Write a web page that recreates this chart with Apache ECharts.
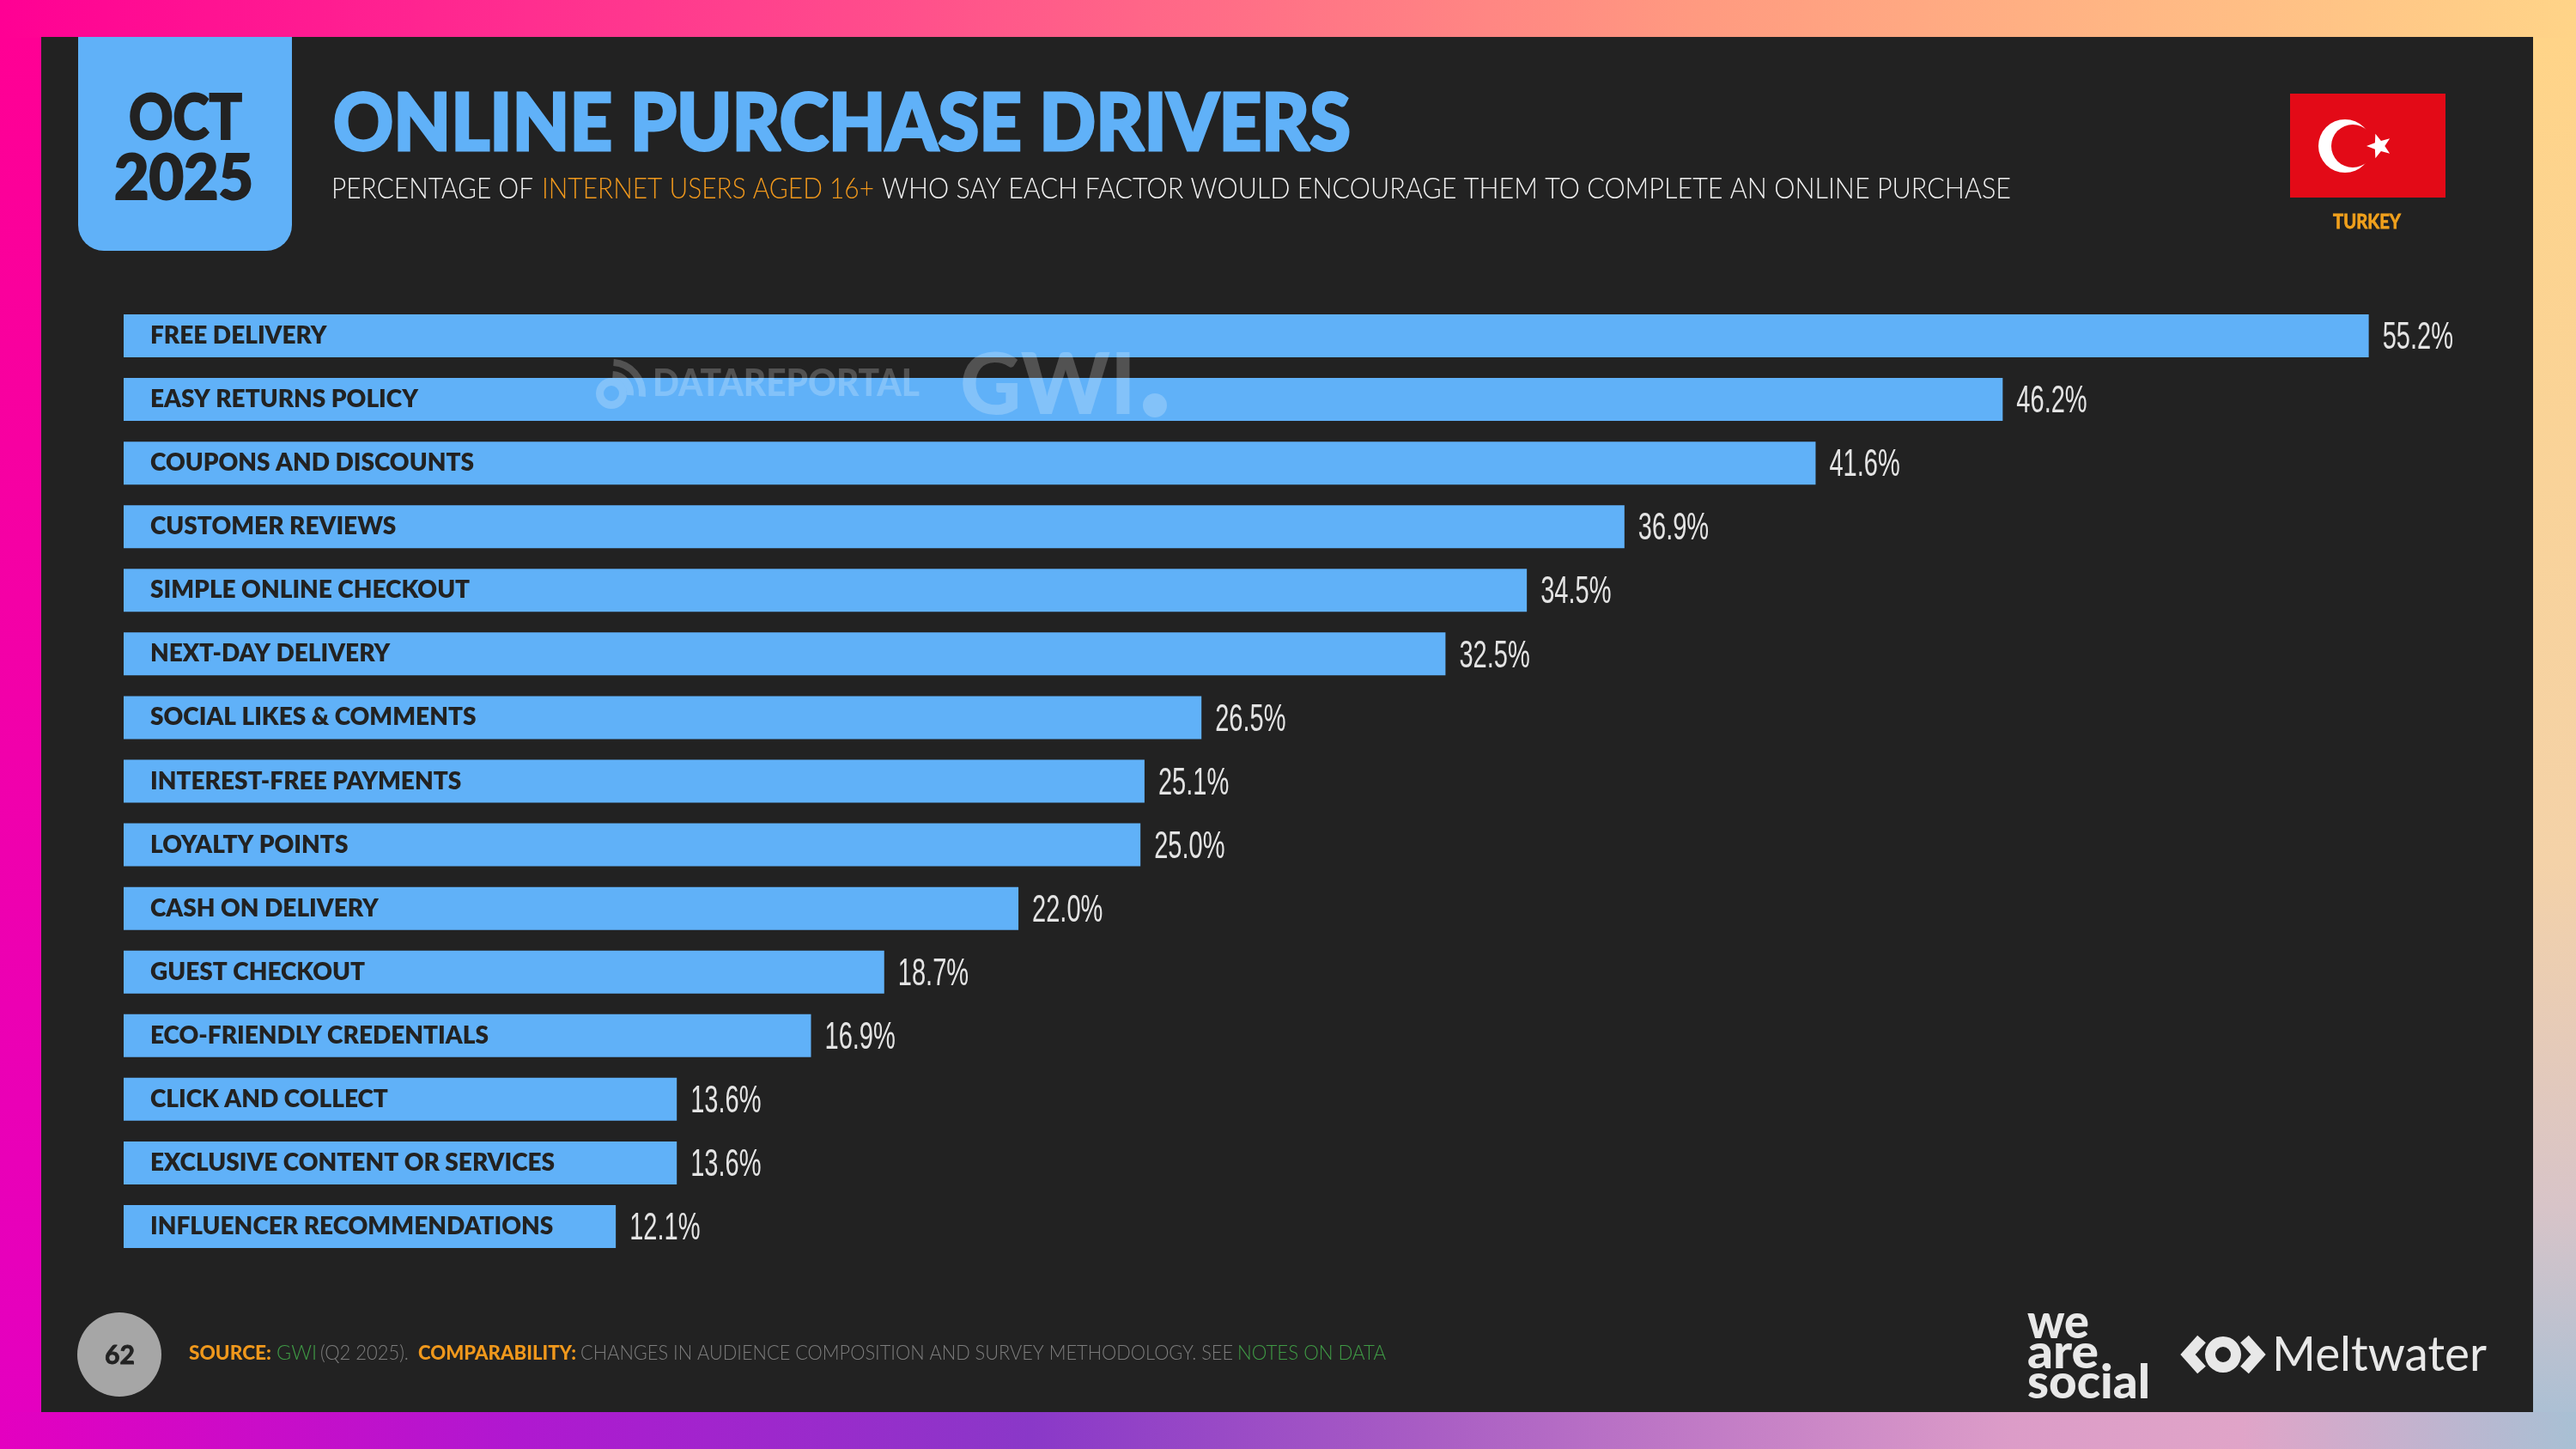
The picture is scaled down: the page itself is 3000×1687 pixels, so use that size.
<!DOCTYPE html>
<html>
<head>
<meta charset="utf-8">
<title>Online purchase drivers</title>
<script src="https://cdn.jsdelivr.net/npm/echarts@6/dist/echarts.min.js"></script>
<style>
  html, body { margin: 0; padding: 0; background: #222; }
  #main { width: 3000px; height: 1687px; }
</style>
</head>
<body>
<div id="main"></div>
<script>
var categories = ['FREE DELIVERY', 'EASY RETURNS POLICY', 'COUPONS AND DISCOUNTS', 'CUSTOMER REVIEWS',
    'SIMPLE ONLINE CHECKOUT', 'NEXT-DAY DELIVERY', 'SOCIAL LIKES & COMMENTS', 'INTEREST-FREE PAYMENTS',
    'LOYALTY POINTS', 'CASH ON DELIVERY', 'GUEST CHECKOUT', 'ECO-FRIENDLY CREDENTIALS',
    'CLICK AND COLLECT', 'EXCLUSIVE CONTENT OR SERVICES', 'INFLUENCER RECOMMENDATIONS'];
var values = [55.2, 46.2, 41.6, 36.9, 34.5, 32.5, 26.5, 25.1, 25.0, 22.0, 18.7, 16.9, 13.6, 13.6, 12.1];

var BLUE = '#60b1f8', PANEL = '#222222', ORANGE = '#f0981c', GREEN = '#3f9a45', GREY = '#7c7c7c';
var SANS = 'Lato', NARROW = '"Liberation Sans Narrow", "Liberation Sans"';
var WATERMARK = 'rgba(255,255,255,0.22)';

var ctx = document.createElement('canvas').getContext('2d');

// text squeezed to a measured width, so the geometric font lands where the slide's did
function txt(x, y, str, size, weight, color, width, heavy, z) {
    ctx.font = weight + ' ' + size + 'px ' + SANS;
    var style = { text: str, fontSize: size, fontWeight: weight, fontFamily: SANS, fill: color, verticalAlign: 'middle' };
    // Lato stops short of the slide's black weight, a thin outline makes up for it
    if (heavy) {
        style.stroke = color;
        style.lineWidth = heavy;
    }
    return {
        type: 'text', x: x, y: y, z: z || 20, silent: true,
        scaleX: width ? width / ctx.measureText(str).width : 1,
        style: style
    };
}

function band(x, y, w, h, x2, y2, stops) {
    return {
        type: 'rect', z: -10, silent: true, shape: { x: x, y: y, width: w, height: h },
        style: { fill: new echarts.graphic.LinearGradient(0, 0, x2, y2, stops) }
    };
}

function starPoints(cx, cy, r) {
    var pts = [];
    for (var i = 0; i < 10; i++) {
        var a = Math.PI + i * Math.PI / 5;
        var rr = i % 2 ? r * 0.42 : r;
        pts.push([cx + rr * Math.cos(a), cy + rr * Math.sin(a)]);
    }
    return pts;
}

var graphics = [
    // slide frame
    band(0, 0, 3000, 44, 1, 0, [
        { offset: 0, color: '#ff0094' }, { offset: 0.33, color: '#ff4a8c' },
        { offset: 0.66, color: '#ff9a80' }, { offset: 1, color: '#ffd488' }]),
    band(0, 1644, 3000, 43, 1, 0, [
        { offset: 0, color: '#e400c0' }, { offset: 0.2, color: '#b018d0' }, { offset: 0.4, color: '#8a38c8' },
        { offset: 0.55, color: '#a85cc4' }, { offset: 0.78, color: '#dc9cc8' }, { offset: 0.87, color: '#e0a4c8' },
        { offset: 1, color: '#a8c0d4' }]),
    band(0, 44, 48, 1600, 0, 1, [{ offset: 0, color: '#ff0094' }, { offset: 1, color: '#e400c0' }]),
    band(2950, 44, 50, 1600, 0, 1, [
        { offset: 0, color: '#ffd488' }, { offset: 0.6, color: '#f4d2a8' }, { offset: 0.85, color: '#d8c4c8' },
        { offset: 1, color: '#acc0d4' }]),
    { type: 'rect', z: -9, silent: true, shape: { x: 48, y: 43, width: 2902, height: 1601 }, style: { fill: PANEL } },

    // date tab
    { type: 'rect', z: 5, silent: true, shape: { x: 91, y: 43, width: 249, height: 249, r: [0, 0, 30, 30] }, style: { fill: BLUE } },
    txt(150, 139, 'OCT', 72, 900, PANEL, 132, 2),
    txt(133, 209, '2025', 72, 900, PANEL, 162, 2),

    // heading
    txt(388, 145, 'ONLINE PURCHASE DRIVERS', 92, 900, BLUE, 1185, 3),
    txt(386, 220, 'PERCENTAGE OF', 34, 300, '#f0f0f0', 235),
    txt(631, 220, 'INTERNET USERS AGED 16+', 34, 300, ORANGE, 387),
    txt(1027, 220, 'WHO SAY EACH FACTOR WOULD ENCOURAGE THEM TO COMPLETE AN ONLINE PURCHASE', 34, 300, '#f0f0f0', 1315),

    // flag
    { type: 'rect', z: 5, silent: true, shape: { x: 2667, y: 109, width: 181, height: 121 }, style: { fill: '#e30a17' } },
    { type: 'circle', z: 6, silent: true, shape: { cx: 2731, cy: 170, r: 31 }, style: { fill: '#ffffff' } },
    { type: 'circle', z: 7, silent: true, shape: { cx: 2740, cy: 170, r: 25 }, style: { fill: '#e30a17' } },
    { type: 'polygon', z: 8, silent: true, shape: { points: starPoints(2771, 170, 15) }, style: { fill: '#ffffff' } },
    txt(2717, 259, 'TURKEY', 22, 700, '#f0a01c', 79, 0.8),

    // watermarks sit over the bars
    txt(760, 447, 'DATAREPORTAL', 44, 900, WATERMARK, 311, 0, 30),
    txt(1118, 450, 'GWI', 100, 900, WATERMARK, 205, 0, 30),
    { type: 'circle', z: 30, silent: true, shape: { cx: 1345, cy: 472, r: 14 }, style: { fill: WATERMARK } },
    { type: 'arc', z: 30, silent: true, shape: { cx: 712, cy: 458, r: 36, startAngle: -1.5, endAngle: 0.1 }, style: { stroke: WATERMARK, lineWidth: 8, fill: null } },
    { type: 'arc', z: 30, silent: true, shape: { cx: 712, cy: 458, r: 22, startAngle: -1.5, endAngle: 0.1 }, style: { stroke: WATERMARK, lineWidth: 8, fill: null } },
    { type: 'ring', z: 30, silent: true, shape: { cx: 712, cy: 458, r: 18, r0: 9 }, style: { fill: WATERMARK } },

    // footer
    { type: 'circle', z: 5, silent: true, shape: { cx: 139, cy: 1577, r: 49 }, style: { fill: '#a6a6a6' } },
    txt(122, 1578, '62', 30, 700, PANEL, 35, 0.8),
    txt(220, 1576, 'SOURCE:', 23, 900, ORANGE, 96),
    txt(322, 1576, 'GWI', 23, 300, GREEN, 47),
    txt(373, 1576, '(Q2 2025).', 23, 300, GREY, 103),
    txt(487, 1576, 'COMPARABILITY:', 23, 900, ORANGE, 184),
    txt(676, 1576, 'CHANGES IN AUDIENCE COMPOSITION AND SURVEY METHODOLOGY. SEE', 23, 300, GREY, 760),
    txt(1441, 1576, 'NOTES ON DATA', 23, 300, GREEN, 173),

    // logos
    txt(2361, 1540, 'we', 56, 900, '#e8e8e8', 72),
    txt(2361, 1575, 'are', 56, 900, '#e8e8e8', 83),
    txt(2361, 1610, 'social', 56, 900, '#e8e8e8', 143),
    { type: 'polyline', z: 6, silent: true, shape: { points: [[2564, 1559], [2548, 1577], [2564, 1595]] }, style: { stroke: '#e8e8e8', lineWidth: 13, fill: null } },
    { type: 'polyline', z: 6, silent: true, shape: { points: [[2614, 1559], [2630, 1577], [2614, 1595]] }, style: { stroke: '#e8e8e8', lineWidth: 13, fill: null } },
    { type: 'ring', z: 6, silent: true, shape: { cx: 2589, cy: 1577, r: 21, r0: 9 }, style: { fill: '#e8e8e8' } },
    txt(2646, 1578, 'Meltwater', 56, 400, '#e8e8e8', 250)
];

var chart = echarts.init(document.getElementById('main'));

chart.setOption({
    animation: false,
    backgroundColor: PANEL,
    graphic: { elements: graphics },
    grid: { left: 144, top: 354, width: 2842, height: 1111 },
    xAxis: { type: 'value', min: 0, max: 60, show: false },
    yAxis: {
        type: 'category',
        data: categories,
        inverse: true,
        z: 10,
        axisLine: { show: false },
        axisTick: { show: false },
        axisLabel: {
            inside: true,
            margin: 31,
            color: PANEL,
            fontFamily: SANS,
            fontWeight: 800,
            fontSize: 28,
            padding: [4, 0, 0, 0]
        }
    },
    series: [{
        type: 'bar',
        data: values,
        barWidth: 50,
        itemStyle: { color: BLUE },
        silent: true
    }, {
        // value labels, narrow like the slide's, placed from the same axes
        type: 'custom',
        silent: true,
        z: 5,
        data: values.map(function (v, i) { return [v, i]; }),
        encode: { x: 0, y: 1 },
        renderItem: function (params, api) {
            var pt = api.coord([api.value(0), api.value(1)]);
            return {
                type: 'text',
                x: pt[0] + 16,
                y: pt[1] + 3,
                scaleX: 0.66,
                style: {
                    text: api.value(0).toFixed(1) + '%',
                    fontFamily: NARROW,
                    fontSize: 44,
                    fill: '#e4e4e4',
                    verticalAlign: 'middle'
                }
            };
        }
    }]
});
</script>
</body>
</html>
